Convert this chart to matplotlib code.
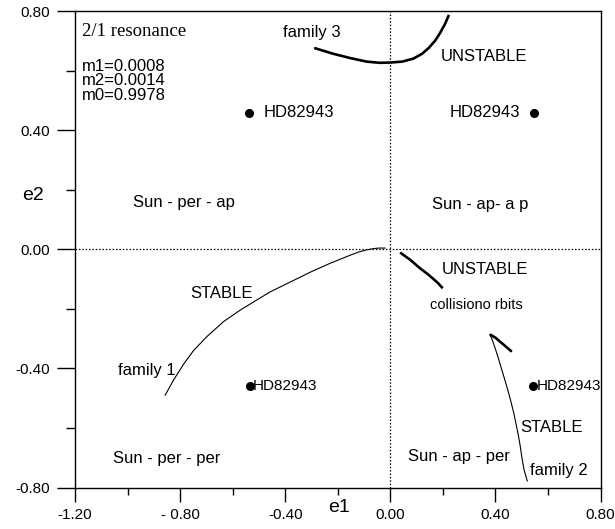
import matplotlib
matplotlib.use("Agg")
import matplotlib.pyplot as plt
import numpy as np

plt.rcParams['font.family'] = ['Liberation Sans', 'DejaVu Sans']

# stationary solution families in the (e1, e2) plane
fam1_e1 = [-0.857, -0.825, -0.787, -0.749, -0.698, -0.635, -0.571, -0.508, -0.457,
           -0.381, -0.305, -0.229, -0.153, -0.120, -0.090, -0.065, -0.045, -0.020]
fam1_e2 = [-0.490, -0.439, -0.386, -0.340, -0.293, -0.243, -0.204, -0.170, -0.143,
           -0.110, -0.077, -0.047, -0.020, -0.009, -0.002, 0.002, 0.004, 0.004]

fam3_e1 = [-0.29, -0.22, -0.153, -0.09, -0.04, 0.0, 0.045, 0.087, 0.12, 0.145,
           0.17, 0.189, 0.207, 0.223]
fam3_e2 = [0.676, 0.657, 0.642, 0.630, 0.626, 0.627, 0.630, 0.640, 0.656, 0.675,
           0.700, 0.726, 0.755, 0.787]

unst_e1 = [0.037, 0.075, 0.113, 0.140, 0.164, 0.183, 0.199]
unst_e2 = [-0.011, -0.035, -0.064, -0.082, -0.100, -0.115, -0.131]

fam2u_e1 = [0.379, 0.400, 0.417, 0.440, 0.462]
fam2u_e2 = [-0.286, -0.297, -0.310, -0.327, -0.344]

fam2s_e1 = [0.379, 0.388, 0.397, 0.407, 0.419, 0.432, 0.446, 0.459, 0.470, 0.479,
            0.487, 0.494, 0.500, 0.508, 0.521]
fam2s_e2 = [-0.286, -0.305, -0.328, -0.355, -0.390, -0.428, -0.470, -0.512, -0.552,
            -0.590, -0.625, -0.660, -0.697, -0.738, -0.778]

# HD82943 in the four configurations
hd_e1 = [-0.537, 0.546, -0.536, 0.544]
hd_e2 = [0.458, 0.458, -0.458, -0.458]

xticks = [-1.2, -0.8, -0.4, 0.0, 0.4, 0.8]
xticklabels = ['-1.20', '- 0.80', '-0.40', '0.00', '0.40', '0.80']
yticks = [-0.8, -0.4, 0.0, 0.4, 0.8]
yticklabels = ['-0.80', '-0.40', '0.00', '0.40', '0.80']

fig = plt.figure(figsize=(6.15, 5.29), dpi=100)
ax = fig.add_axes([0.1220, 0.0784, 0.8546, 0.9008])
ax.set_xlim(-1.2, 0.8)
ax.set_ylim(-0.8, 0.8)

ax.axhline(0, color='black', lw=0.9, dashes=(1.2, 1.5))
ax.axvline(0, color='black', lw=0.9, dashes=(1.2, 1.5))

ax.plot(fam1_e1, fam1_e2, color='black', lw=0.8)
ax.plot(fam3_e1, fam3_e2, color='black', lw=1.9, solid_capstyle='butt')
ax.plot(unst_e1, unst_e2, color='black', lw=1.9, solid_capstyle='butt')
ax.plot(fam2u_e1, fam2u_e2, color='black', lw=1.9, solid_capstyle='butt')
ax.plot(fam2s_e1, fam2s_e2, color='black', lw=0.8)

ax.plot(hd_e1, hd_e2, 'o', color='black', ms=5.5, clip_on=False)

fs = 12
ax.text(-1.172, 0.73, '2/1 resonance', family='Liberation Serif', fontsize=13.5, va='center')
ax.text(-1.172, 0.565, 'm1=0.0008\nm2=0.0014\nm0=0.9978', fontsize=fs, va='center',
        linespacing=0.95)
ax.text(-0.408, 0.727, 'family 3', fontsize=fs, va='center')
ax.text(0.190, 0.646, 'UNSTABLE', fontsize=fs, va='center')
ax.text(-0.484, 0.458, 'HD82943', fontsize=fs, va='center')
ax.text(0.227, 0.458, 'HD82943', fontsize=fs, va='center')
ax.text(-0.978, 0.156, 'Sun - per - ap', fontsize=fs, va='center')
ax.text(0.158, 0.149, 'Sun - ap- a p', fontsize=fs, va='center')
ax.text(0.195, -0.067, 'UNSTABLE', fontsize=fs, va='center')
ax.text(0.151, -0.187, 'collisiono rbits', fontsize=10.5, va='center')
ax.text(-0.761, -0.150, 'STABLE', fontsize=fs, va='center')
ax.text(-1.035, -0.406, 'family 1', fontsize=fs, va='center')
ax.text(-0.522, -0.458, 'HD82943', fontsize=11, va='center')
ax.text(0.557, -0.458, 'HD82943', fontsize=11, va='center', clip_on=False)
ax.text(0.493, -0.600, 'STABLE', fontsize=fs, va='center')
ax.text(0.067, -0.697, 'Sun - ap - per', fontsize=fs, va='center')
ax.text(0.531, -0.742, 'family 2', fontsize=fs, va='center')
ax.text(-1.054, -0.702, 'Sun - per - per', fontsize=fs, va='center')

ax.text(-0.236, -0.868, 'e1', fontsize=14, va='center', clip_on=False)
ax.text(-1.40, 0.182, 'e2', fontsize=14, va='center', clip_on=False)

ax.set_xticks(xticks)
ax.set_xticklabels(xticklabels)
ax.set_yticks(yticks)
ax.set_yticklabels(yticklabels)
ax.set_xticks(np.arange(-1.0, 0.8, 0.4), minor=True)
ax.set_yticks([-0.6, -0.2, 0.2, 0.6], minor=True)
ax.tick_params(axis='x', which='major', direction='out', length=10, width=1, pad=5, labelsize=11)
ax.tick_params(axis='x', which='minor', direction='out', length=5, width=1)
ax.tick_params(axis='y', which='major', direction='out', length=13, width=1, pad=5, labelsize=11)
ax.tick_params(axis='y', which='minor', direction='out', length=6.5, width=1)
for sp in ax.spines.values():
    sp.set_linewidth(1.0)

fig.savefig('out.png', dpi=100)
